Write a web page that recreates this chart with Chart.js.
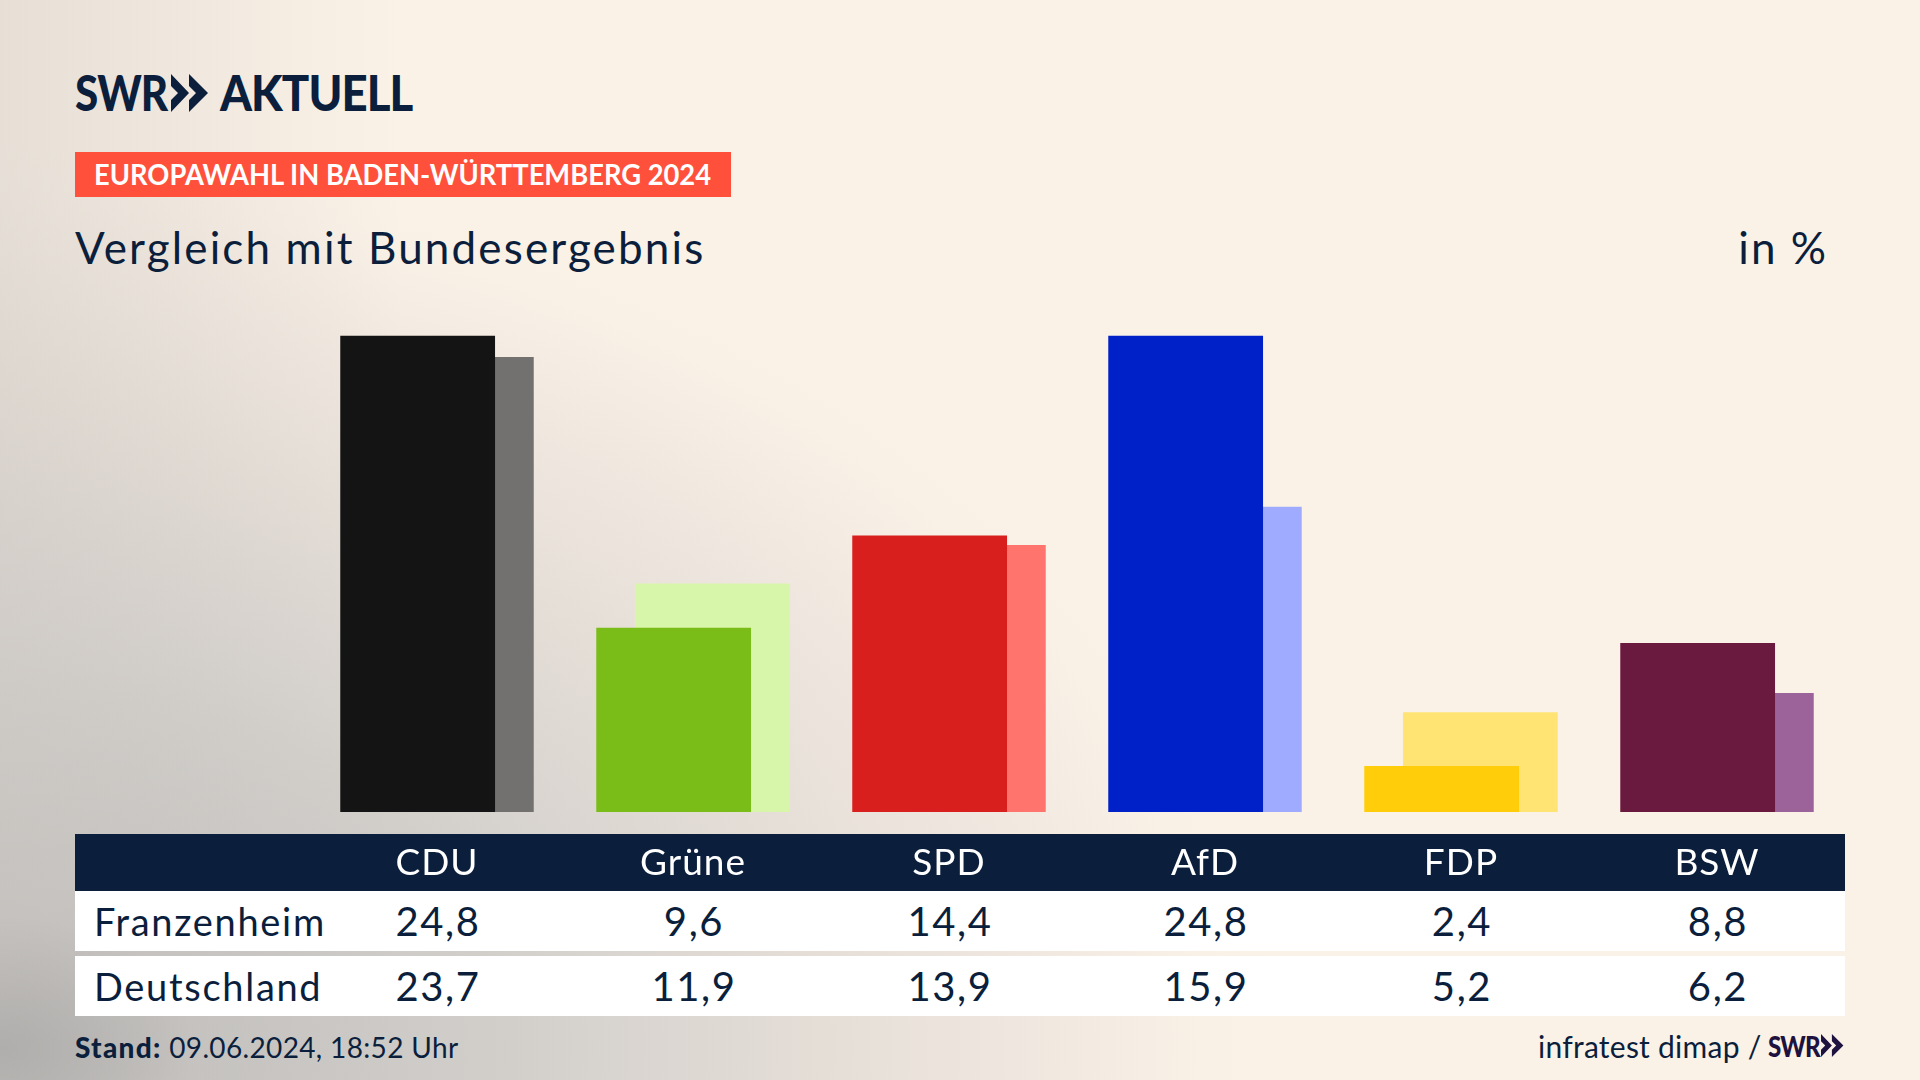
<!DOCTYPE html>
<html lang="de">
<head>
<meta charset="utf-8">
<title>Vergleich mit Bundesergebnis</title>
<script src="https://cdn.jsdelivr.net/npm/chart.js@4"></script>
<style>
  html, body { margin: 0; padding: 0; }
  body {
    width: 1920px; height: 1080px; position: relative; overflow: hidden;
    font-family: Lato, sans-serif; color: #0b1f3d;
    background:
      linear-gradient(to right, rgba(200,195,190,.4) 0, rgba(200,195,190,0) 400px),
      radial-gradient(ellipse 1280px 900px at 0% 97%, #a0a0a0 0%, #c4c2c0 15%, #d2cfcb 40%, #e6dfd8 66%, #f9f0e6 94%, #fbf2e7 100%);
  }
  #chart { position: absolute; left: 0; top: 0; z-index: 2; }
  .abs { position: absolute; white-space: nowrap; }
  #band { position: absolute; left: 75px; top: 834px; width: 1770px; height: 57px; background: #0b1f3d; z-index: 1; }
  .row { position: absolute; left: 75px; width: 1770px; height: 60px; background: #fff; display: flex; font-size: 38px; line-height: 60px; z-index: 1; }
  .row .name { width: 234px; box-sizing: border-box; padding-left: 19px; letter-spacing: 1.7px; }
  .row .val { width: 256px; box-sizing: border-box; padding-left: 2px; text-align: center; font-size: 40px; letter-spacing: 1.6px; }
  .logo { font-weight: 900; transform-origin: left top; letter-spacing: -1px; }
  .chev { position: absolute; }
</style>
</head>
<body>
<div class="abs logo" style="left:75px;top:66px;font-size:49px;line-height:52px;transform:scaleX(.86)">SWR</div>
<svg class="chev" style="left:171px;top:74px" width="38" height="38" viewBox="0 0 38 38"><path d="M0 0 L18 19 L0 38 L0 26 L7 19 L0 12 Z M18 0 L37 19 L18 38 L18 26 L25 19 L18 12 Z" fill="#0b1f3d"/></svg>
<div class="abs logo" style="left:220px;top:66px;font-size:49px;line-height:52px;transform:scaleX(.93)">AKTUELL</div>

<div class="abs" style="left:75px;top:152px;width:656px;height:45px;background:#ff503c"></div>
<div class="abs" id="badge" style="left:94px;top:152px;font-size:28px;line-height:45px;font-weight:700;color:#fff;transform-origin:left center;transform:scaleX(.976)">EUROPAWAHL IN BADEN-WÜRTTEMBERG 2024</div>
<div class="abs" style="left:75px;top:219px;font-size:44px;line-height:56px;letter-spacing:2.15px">Vergleich mit Bundesergebnis</div>
<div class="abs" style="right:92px;top:219px;font-size:44px;line-height:56px;letter-spacing:2px">in %</div>

<div id="band"></div>
<canvas id="chart" width="1920" height="1080"></canvas>
<div id="rows"></div>

<div class="abs" style="left:75px;top:1030px;font-size:28px;line-height:34px;letter-spacing:.35px"><b style="font-weight:900;letter-spacing:1.3px">Stand:</b> 09.06.2024, 18:52 Uhr</div>
<div class="abs" style="left:1538px;top:1028px;font-size:30px;line-height:36px;letter-spacing:.25px">infratest dimap /</div>
<div class="abs logo" style="left:1768px;top:1030px;font-size:28px;line-height:32px;color:#1e1240;transform:scaleX(.86)">SWR</div>
<svg class="chev" style="left:1821px;top:1034px" width="23" height="23" viewBox="0 0 38 38"><path d="M0 0 L18 19 L0 38 L0 26 L7 19 L0 12 Z M18 0 L37 19 L18 38 L18 26 L25 19 L18 12 Z" fill="#1e1240"/></svg>

<script>
const categories = ['CDU', 'Grüne', 'SPD', 'AfD', 'FDP', 'BSW'];
const franzenheim = [24.8, 9.6, 14.4, 24.8, 2.4, 8.8];
const deutschland = [23.7, 11.9, 13.9, 15.9, 5.2, 6.2];
const frontColors = ['#141414', '#7abd18', '#d81f1d', '#0020c8', '#ffcd0a', '#6b1a3f'];
const backColors = ['#73716f', '#d8f6a9', '#ff746c', '#9eabff', '#ffe373', '#9b6399'];

// bars overlap: group is narrow, each bar is 4x its slot
const catPct = 0.3023;
const barPct = 4;

// chart resets the canvas on init, so set the spacing just before it draws
const tickSpacing = {
    id: 'tickSpacing',
    beforeDraw: chart => { chart.ctx.letterSpacing = '1px'; }
};

new Chart(document.getElementById('chart'), {
    type: 'bar',
    data: {
        labels: categories,
        datasets: [
            { label: 'Franzenheim', data: franzenheim, backgroundColor: frontColors, categoryPercentage: catPct, barPercentage: barPct },
            { label: 'Deutschland', data: deutschland, backgroundColor: backColors, categoryPercentage: catPct, barPercentage: barPct }
        ]
    },
    plugins: [tickSpacing],
    options: {
        responsive: false,
        devicePixelRatio: 1,
        animation: false,
        layout: { padding: { left: 309, right: 75, top: 332, bottom: 196 } },
        plugins: { legend: { display: false }, tooltip: { enabled: false } },
        scales: {
            x: {
                grid: { display: false, drawTicks: false },
                border: { display: false },
                afterFit: scale => { scale.height = 72; },
                ticks: {
                    color: '#ffffff',
                    font: { family: 'Lato', size: 37 },
                    padding: 29,
                    autoSkip: false,
                    maxRotation: 0
                }
            },
            y: { display: false, min: 0, max: 25 }
        }
    }
});

function addRow(name, values, top) {
    const row = document.createElement('div');
    row.className = 'row';
    row.style.top = top + 'px';
    row.innerHTML = `<div class="name">${name}</div>` +
        values.map(v => `<div class="val">${v.toFixed(1).replace('.', ',')}</div>`).join('');
    document.getElementById('rows').appendChild(row);
}
addRow('Franzenheim', franzenheim, 891);
addRow('Deutschland', deutschland, 956);
</script>
</body>
</html>
